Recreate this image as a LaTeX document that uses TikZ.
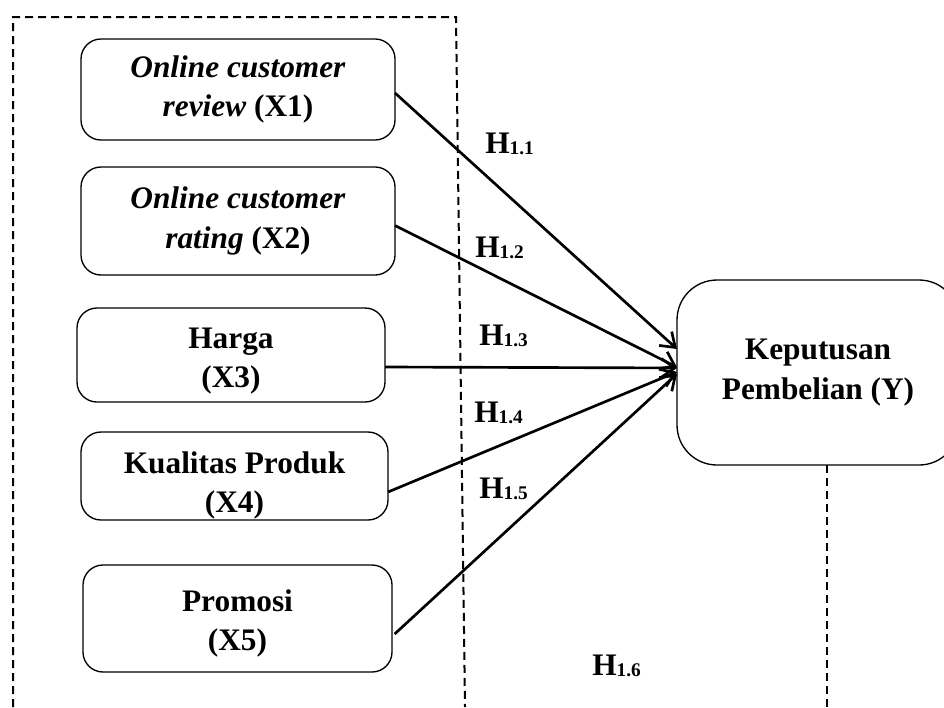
\documentclass[tikz,border=0pt]{standalone}
\usepackage{fontspec}
\setmainfont{Liberation Serif}
\usetikzlibrary{arrows.meta}

\tikzset{
  varbox/.style={draw, line width=1pt, rounded corners=15pt, align=center,
    inner sep=0pt, outer sep=0pt, font=\fontsize{23.5}{29.5}\selectfont\bfseries},
  hyplink/.style={line width=2pt, -{Straight Barb[length=10pt,width=14pt,line width=2pt]}},
  hyplabel/.style={anchor=base west, inner sep=0pt, font=\fontsize{23.5}{28}\selectfont\bfseries},
  frame/.style={line width=1.5pt, dash pattern=on 6pt off 3.75pt}
}
\newcommand{\hyp}[1]{H{\fontsize{14.5}{15}\selectfont\raisebox{-1pt}{#1}}}

\begin{document}
\begin{tikzpicture}[x=0.75pt,y=0.75pt,yscale=-1,xscale=1]
\useasboundingbox (0,0) rectangle (944,707);

%Dashed frame round X
\draw [frame] (13,707) -- (13,17) -- (456,17) -- (465,707) ;

%Variable boxes
\node [varbox, minimum width=235.5pt, minimum height=75.75pt] (x1) at (238,89.5) {\textit{Online customer}\\\textit{review} (X1)};
\node [varbox, minimum width=235.5pt, minimum height=81pt] (x2) at (238,221) {\textit{Online customer}\\\textit{rating} (X2)};
\node [varbox, minimum width=231pt, minimum height=70.5pt] (x3) at (231,355) {\rule{0pt}{24pt}Harga\\(X3)};
\node [varbox, minimum width=230.25pt, minimum height=66pt] (x4) at (234.5,476) {\rule{0pt}{30pt}Kualitas Produk\\(X4)};
\node [varbox, minimum width=231.75pt, minimum height=80.25pt] (x5) at (237.5,618.5) {\rule{0pt}{24pt}Promosi\\(X5)};
\node [varbox, rounded corners=30pt, minimum width=211.5pt, minimum height=138.75pt] (y) at (818,372.5) {Keputusan\\Pembelian (Y)};

%Dashed line under Y
\coordinate (ybottom) at (827,707);
\draw [frame] ([xshift=6.75pt]y.south) -- (ybottom) ;

%Hypothesis arrows (yshift is flipped by yscale=-1)
\draw [hyplink] ([yshift=2.6pt]x1.east) -- ([yshift=-17.6pt]y.west) ;
\draw [hyplink] ([yshift=3.4pt]x2.east) -- ([yshift=-4pt]y.west) ;
\draw [hyplink] ([yshift=9pt]x3.east) -- ([yshift=-3.4pt]y.west) ;
\draw [hyplink] ([yshift=12pt]x4.east) -- ([yshift=-0.5pt]y.west) ;
\draw [hyplink] ([xshift=2pt,yshift=11.6pt]x5.east) -- ([yshift=1pt]y.west) ;

% Text Node
\node [hyplabel] (h11) at (485,153) {\hyp{1.1}};
% Text Node
\node [hyplabel] (h12) at (475,257) {\hyp{1.2}};
% Text Node
\node [hyplabel] (h13) at (479,345) {\hyp{1.3}};
% Text Node
\node [hyplabel] (h14) at (474,422) {\hyp{1.4}};
% Text Node
\node [hyplabel] (h15) at (479,498) {\hyp{1.5}};
% Text Node
\node [hyplabel] (h16) at (592,675) {\hyp{1.6}};

\end{tikzpicture}
\end{document}
